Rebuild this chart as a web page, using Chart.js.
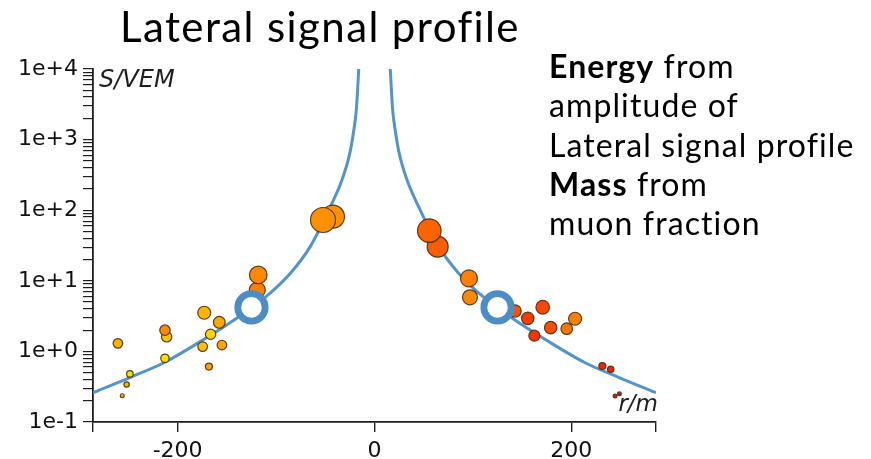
<!DOCTYPE html>
<html>
<head>
<meta charset="utf-8">
<script src="https://cdn.jsdelivr.net/npm/chart.js@4.4.0/dist/chart.umd.min.js"></script>
<style>
  html, body { margin: 0; padding: 0; background: #fff; }
  #wrap { position: relative; width: 871px; height: 459px; overflow: hidden; }
  #ldf { position: absolute; left: 0; top: 0; }
  .title { position: absolute; left: 120px; top: 5px; font-family: Lato, sans-serif; font-size: 42px; line-height: 42px; letter-spacing: 1.4px; color: #000; white-space: nowrap; }
  .notes { position: absolute; left: 549px; top: 46px; font-family: Lato, sans-serif; font-size: 32px; line-height: 39.3px; letter-spacing: 1.1px; color: #000; white-space: nowrap; }
  .notes b { font-weight: 700; }
</style>
</head>
<body>
<div id="wrap">
  <canvas id="ldf" width="871" height="459"></canvas>
  <div class="title">Lateral signal profile</div>
  <div class="notes">
    <b>Energy</b> from<br>
    amplitude of<br>
    Lateral signal profile<br>
    <b>Mass</b> from<br>
    muon fraction
  </div>
</div>
<script>
// station hits: distance to the shower axis (m) and signal (VEM), in draw order
const stationR = [-260.7, -248.5, -251.8, -256.3, -211.2, -212.9, -212.9, -173, -157.7, -166.5,
                  -174.6, -155, -168.2, -119.1, -118.1, -42.2, -52.3, 64.2, 55.7, 96,
                  97, 142.8, 155.7, 170.9, 179, 162.4, 195.3, 203.8, 231.5, 240,
                  244.4, 248.8];
const stationS = [1.30, 0.48, 0.34, 0.236, 1.61, 2.0, 0.80, 3.53, 2.58, 1.75,
                  1.17, 1.23, 0.61, 7.4, 12.1, 81, 72.6, 30.4, 51.3, 10.8,
                  5.83, 3.73, 2.94, 4.22, 2.17, 1.67, 2.10, 2.90, 0.62, 0.56,
                  0.233, 0.251];

// fitted lateral profile, one branch (mirrored for r < 0)
const ldfR = [16, 18.4, 21.5, 25, 33, 44.7, 65, 85, 106, 125, 140, 174, 214, 248, 286];
const ldfS = [10000, 2700, 1230, 650, 270, 113, 31, 13, 6.7, 4.2, 2.95, 1.46, 0.69, 0.43, 0.26];

// reference distance markers
const refR = [-125, 125];
const refS = [4.2, 4.2];

const xTicks = [-200, 0, 200];
const yTickLabels = ['1e-1', '1e+0', '1e+1', '1e+2', '1e+3', '1e+4'];

// marker look per station
const stationSize = [5.3, 3.8, 3.2, 2.4, 5.7, 5.7, 4.7, 7.0, 6.4, 5.7,
                     5.3, 5.3, 4.0, 8.5, 9.3, 12.0, 13.0, 11.0, 12.3, 9.0,
                     8.0, 6.7, 6.7, 7.3, 6.7, 6.0, 6.3, 7.0, 4.0, 3.7,
                     2.4, 2.4];
const stationColor = ['#f6b500', '#f2e200', '#efba00', '#e9c900', '#f7c300', '#ff8a00', '#f6e000', '#ffb400', '#ffa800', '#ffd200',
                      '#ffc400', '#ffa600', '#ff9f00', '#ff8000', '#ff8800', '#ff9000', '#ff9100', '#ff5d00', '#ff6400', '#ff8000',
                      '#ff8a00', '#ff5200', '#ff3c00', '#ff4600', '#ff4d00', '#ff3300', '#ff7600', '#ff7f00', '#f02800', '#ee2400',
                      '#dd1515', '#dd1515'];

const tickFont = { family: '"DejaVu Sans", sans-serif', size: 22 };
const axisColor = '#1e1e1e';
const X_MIN = -286, X_MAX = 286;

const stations = stationR.map((r, i) => ({ x: r, y: stationS[i] }));
const rightBranch = ldfR.map((r, i) => ({ x: r, y: ldfS[i] }));
const leftBranch = ldfR.map((r, i) => ({ x: -r, y: ldfS[i] })).reverse();
const refPoints = refR.map((r, i) => ({ x: r, y: refS[i] }));

const curveStyle = {
  type: 'line',
  borderColor: '#5694c6',
  borderWidth: 3,
  pointRadius: 0,
  cubicInterpolationMode: 'monotone',
  order: 2
};

// italic axis captions inside the frame
const axisCaptions = {
  id: 'axisCaptions',
  afterDraw(chart) {
    const { ctx, chartArea: a } = chart;
    ctx.save();
    ctx.font = 'oblique 24px "DejaVu Sans", sans-serif';
    ctx.fillStyle = axisColor;
    ctx.textAlign = 'left';
    ctx.fillText('S/VEM', a.left + 6, a.top + 18);
    ctx.font = 'oblique 23px "DejaVu Sans", sans-serif';
    ctx.textAlign = 'right';
    ctx.fillText('r/m', a.right + 2, a.bottom - 11);
    ctx.restore();
  }
};

new Chart(document.getElementById('ldf'), {
  type: 'scatter',
  data: {
    datasets: [
      {
        data: refPoints,
        pointRadius: 13.7,
        pointBorderWidth: 6.8,
        pointBackgroundColor: '#fff',
        pointBorderColor: '#4d8dc3',
        order: 0
      },
      {
        data: stations,
        pointRadius: stationSize.map(s => s - 0.5),
        pointBorderWidth: 1.2,
        pointBackgroundColor: stationColor,
        pointBorderColor: 'rgba(70, 45, 20, 0.9)',
        order: 1
      },
      Object.assign({ data: leftBranch }, curveStyle),
      Object.assign({ data: rightBranch }, curveStyle)
    ]
  },
  options: {
    responsive: false,
    animation: false,
    devicePixelRatio: 1,
    layout: { padding: { top: 69, right: 215, left: 0, bottom: 0 } },
    plugins: { legend: { display: false }, tooltip: { enabled: false } },
    scales: {
      x: {
        type: 'linear',
        min: X_MIN,
        max: X_MAX,
        afterFit(scale) { scale.height = 37; },
        afterBuildTicks(scale) {
          scale.ticks = [X_MIN, ...xTicks, X_MAX].map(v => ({ value: v }));
        },
        ticks: {
          callback: v => (xTicks.includes(v) ? String(v) : ''),
          font: tickFont,
          color: '#111',
          padding: 6,
          maxRotation: 0,
          autoSkip: false
        },
        grid: { drawOnChartArea: false, tickLength: 10, color: axisColor, lineWidth: 1.4 },
        border: { color: axisColor, width: 1.8 }
      },
      y: {
        type: 'logarithmic',
        min: 0.1,
        max: 10000,
        afterFit(scale) { scale.width = 93; },
        afterBuildTicks(scale) {
          const ticks = [];
          for (let e = -1; e <= 4; e++) {
            for (let m = 1; m <= 9; m++) {
              if (e === 4 && m > 1) break;
              ticks.push({ value: m * Math.pow(10, e) });
            }
          }
          scale.ticks = ticks;
        },
        ticks: {
          callback: v => {
            const e = Math.log10(v);
            return Math.abs(e - Math.round(e)) < 1e-6 ? yTickLabels[Math.round(e) + 1] : '';
          },
          font: tickFont,
          color: '#111',
          padding: 5,
          autoSkip: false
        },
        grid: { drawOnChartArea: false, tickLength: 10, color: axisColor, lineWidth: 1.2 },
        border: { color: axisColor, width: 1.8 }
      }
    }
  },
  plugins: [axisCaptions]
});
</script>
</body>
</html>
